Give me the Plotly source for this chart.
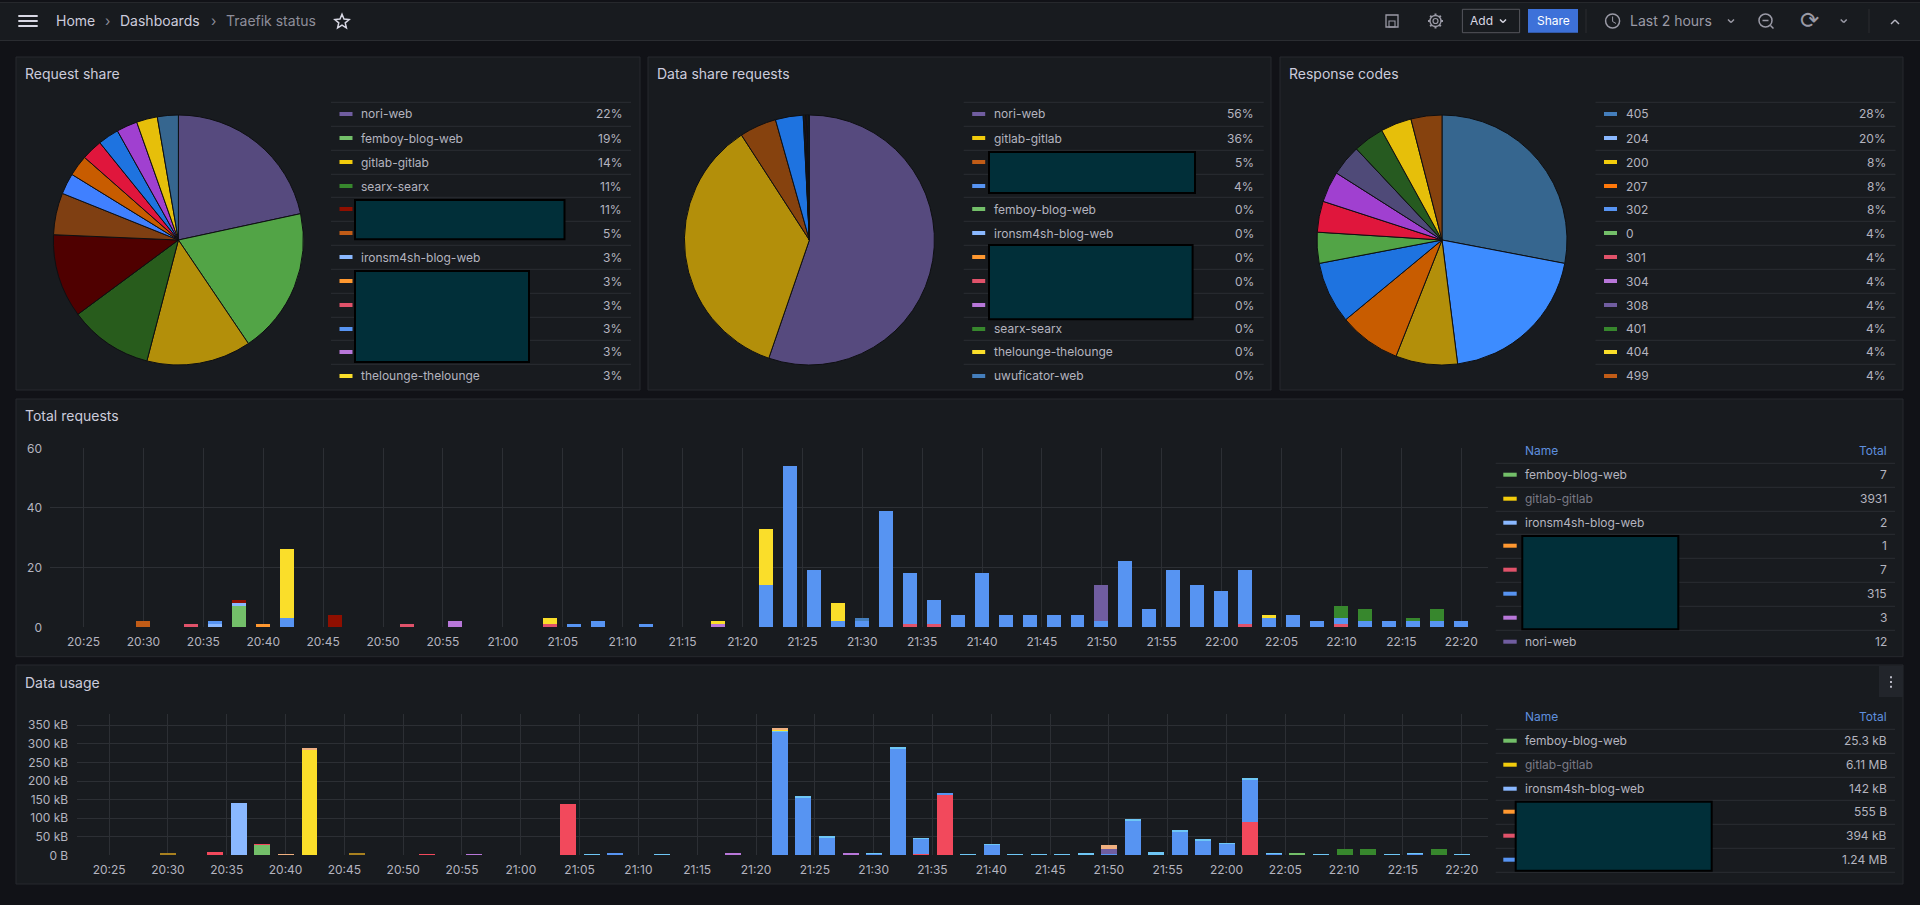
import math
import plotly.graph_objects as go

W, H = 1920, 905
DAY = "2023-06-01 "

# ---- pie panels
req_names = ["nori-web", "femboy-blog-web", "gitlab-gitlab", "searx-searx", "", "", "ironsm4sh-blog-web",
             "", "", "", "", "thelounge-thelounge"]
req_counts = [8, 7, 5, 4, 4, 2, 1, 1, 1, 1, 1, 1, 1]
req_pcts = ["22%", "19%", "14%", "11%", "11%", "5%", "3%", "3%", "3%", "3%", "3%", "3%"]
req_swatches = ["#705da0", "#73bf69", "#f2cc0c", "#37872d", "#8f0f00", "#c15c17", "#8ab8ff",
                "#ff9830", "#e0526a", "#5794f2", "#b877d9", "#fade2a"]
req_slices = ["#564a7e", "#52a446", "#b38f0a", "#285c1c", "#4f0000", "#7f3f12", "#4080ff",
              "#c85c00", "#e0163c", "#1e73e0", "#a040d0", "#e6bf0a", "#36668f"]

data_names = ["nori-web", "gitlab-gitlab", "", "", "femboy-blog-web", "ironsm4sh-blog-web", "", "", "",
              "searx-searx", "thelounge-thelounge", "uwuficator-web"]
data_shares = [55.6, 35.8, 4.8, 3.6, 0.1, 0.1, 0.1, 0.1, 0.1, 0.1, 0.1, 0.1]
data_pcts = ["56%", "36%", "5%", "4%", "0%", "0%", "0%", "0%", "0%", "0%", "0%", "0%"]
data_swatches = ["#705da0", "#f2cc0c", "#c15c17", "#5794f2", "#73bf69", "#8ab8ff", "#ff9830", "#e0526a",
                 "#b877d9", "#37872d", "#fade2a", "#447ebc"]
data_slices = ["#564a7e", "#b38f0a", "#86420e", "#1e73e0", "#52a446", "#4080ff", "#c85c00", "#e0163c",
               "#a040d0", "#285c1c", "#e6bf0a", "#36668f"]

code_names = ["405", "204", "200", "207", "302", "0", "301", "304", "308", "401", "404", "499"]
code_counts = [7, 5, 2, 2, 2, 1, 1, 1, 1, 1, 1, 1]
code_pcts = ["28%", "20%", "8%", "8%", "8%", "4%", "4%", "4%", "4%", "4%", "4%", "4%"]
code_swatches = ["#447ebc", "#8ab8ff", "#f2cc0c", "#ff780a", "#5794f2", "#73bf69", "#e0526a", "#b877d9",
                 "#705da0", "#37872d", "#fade2a", "#c15c17"]
code_slices = ["#36668f", "#3d8cff", "#b38f0a", "#c85c00", "#1e73e0", "#52a446", "#e0163c", "#a040d0",
               "#4f4a78", "#265a20", "#e6bf0a", "#86420e"]

# ---- total requests, bottom of the stack first
tr_femboy_t = ["20:38"]
tr_femboy = [7]
tr_ironsm_t = ["20:36", "20:38"]
tr_ironsm = [1, 1]
tr_red_t = ["20:34", "20:52", "21:04", "21:34", "21:36", "22:02", "22:10"]
tr_red = [1, 1, 1, 1, 1, 1, 1]
tr_blue_t = ["20:36", "20:42", "21:06", "21:08", "21:12", "21:22", "21:24", "21:26", "21:28", "21:30", "21:32",
             "21:34", "21:36", "21:38", "21:40", "21:42", "21:44", "21:46", "21:48", "21:50", "21:52", "21:54",
             "21:56", "21:58", "22:00", "22:02", "22:04", "22:06", "22:08", "22:10", "22:12", "22:14", "22:16",
             "22:18", "22:20"]
tr_blue = [1, 3, 1, 2, 1, 14, 54, 19, 2, 2, 39, 17, 8, 4, 18, 4, 4, 4, 4, 2, 22, 6, 19, 14, 12, 18, 3, 4, 2, 2, 2,
           2, 2, 2, 2]
tr_purple_t = ["20:56", "21:18"]
tr_purple = [2, 1]
tr_uwu_t = ["21:30"]
tr_uwu = [1]
tr_nori_t = ["21:50"]
tr_nori = [12]
tr_searx_t = ["22:10", "22:12", "22:16", "22:18"]
tr_searx = [4, 4, 1, 4]
tr_gitlab_t = ["20:42", "21:04", "21:18", "21:22", "21:28", "22:04"]
tr_gitlab = [23, 2, 1, 19, 6, 1]
tr_darkred_t = ["20:38", "20:46"]
tr_darkred = [1, 4]
tr_brown_t = ["20:30"]
tr_brown = [2]
tr_orange_t = ["20:40"]
tr_orange = [1]

# ---- data usage in kB
du_femboy_t = ["20:38", "21:08", "22:06"]
du_femboy = [27, 2, 4]
du_ironsm_t = ["20:36"]
du_ironsm = [141]
du_red_t = ["20:34", "20:38", "20:52", "21:04", "21:34", "21:36", "22:02"]
du_red = [9, 2, 2, 138, 4, 163, 89]
du_blue_t = ["21:08", "21:22", "21:24", "21:26", "21:30", "21:32", "21:34", "21:36", "21:40", "21:48", "21:50",
             "21:52", "21:54", "21:56", "21:58", "22:00", "22:02", "22:04", "22:16"]
du_blue = [2, 333, 155, 48, 3, 287, 40, 4, 27, 2, 2, 93, 1, 61, 40, 31, 114, 3, 3]
du_cyan_t = ["21:06", "21:12", "21:22", "21:24", "21:26", "21:30", "21:32", "21:34", "21:38", "21:40", "21:42",
             "21:44", "21:46", "21:48", "21:52", "21:54", "21:56", "21:58", "22:00", "22:02", "22:04", "22:08",
             "22:14", "22:16", "22:20"]
du_cyan = [2, 2, 1, 2, 1, 1, 2, 1, 1.5, 1, 1.5, 1.5, 1.5, 1.5, 5, 8, 7, 4, 1, 2, 1, 1.5, 1.5, 1, 1.5]
du_purple_t = ["20:56", "21:18", "21:28"]
du_purple = [2, 5, 4]
du_nori_t = ["21:50"]
du_nori = [13]
du_searx_t = ["22:10", "22:12", "22:18"]
du_searx = [17, 17, 17]
du_gitlab_t = ["20:42", "21:22"]
du_gitlab = [283, 3]
du_brown_t = ["20:30", "20:46"]
du_brown = [3, 3]
du_orange_t = ["20:40", "20:42", "21:22", "21:50"]
du_orange = [2, 6, 3, 13]

# ---- tables
req_table_names = ["femboy-blog-web", "gitlab-gitlab", "ironsm4sh-blog-web", "", "", "", "", "nori-web"]
req_table_totals = ["7", "3931", "2", "1", "7", "315", "3", "12"]
req_table_colors = ["#73bf69", "#f2cc0c", "#8ab8ff", "#ff9830", "#e0526a", "#5794f2", "#b877d9", "#705da0"]
use_table_names = ["femboy-blog-web", "gitlab-gitlab", "ironsm4sh-blog-web", "", "", ""]
use_table_totals = ["25.3 kB", "6.11 MB", "142 kB", "555 B", "394 kB", "1.24 MB"]
use_table_colors = ["#73bf69", "#f2cc0c", "#8ab8ff", "#ff9830", "#e0526a", "#5794f2"]
usage_ticks = [0, 50, 100, 150, 200, 250, 300, 350]
usage_labels = ["0 B", "50 kB", "100 kB", "150 kB", "200 kB", "250 kB", "300 kB", "350 kB"]

BG = "#111217"
PANEL = "#181b1f"
BORDER = "#27292e"
TEXT = "#ccccdc"
DIM = "#b4b4bf"
ROW = "#2b2d33"
GRID = "#2c2f34"
BLUE_HEAD = "#5f8fde"
HIDE = "#012f39"
ICON = "#9a9aa6"


def px(x):
    return x / W


def py(y):
    return 1 - y / H


shapes = []
notes = []


def rect(x0, y0, x1, y1, fill, line=None, lw=1, layer="above"):
    shapes.append(dict(type="rect", xref="paper", yref="paper", x0=px(x0), x1=px(x1), y0=py(y0), y1=py(y1),
                       fillcolor=fill, line=dict(color=line or fill, width=lw if line else 0), layer=layer))


def seg(x0, y0, x1, y1, color, lw=1):
    shapes.append(dict(type="line", xref="paper", yref="paper", x0=px(x0), x1=px(x1), y0=py(y0), y1=py(y1),
                       line=dict(color=color, width=lw)))


def circle(x, y, r, color, lw=1.5):
    shapes.append(dict(type="circle", xref="paper", yref="paper", x0=px(x - r), x1=px(x + r), y0=py(y - r),
                       y1=py(y + r), line=dict(color=color, width=lw)))


def chevron(x, y, size, color, up=False):
    d = -size if up else size
    seg(x - size, y - d / 2, x, y + d / 2, color, 1.5)
    seg(x, y + d / 2, x + size, y - d / 2, color, 1.5)


def star(x, y, outer, inner, color):
    pts = []
    for i in range(10):
        r = outer if i % 2 == 0 else inner
        a = math.pi * i / 5
        pts.append((px(x + r * math.sin(a)), py(y - r * math.cos(a))))
    path = "M" + " L".join(f"{a:.5f},{b:.5f}" for a, b in pts) + " Z"
    shapes.append(dict(type="path", xref="paper", yref="paper", path=path, line=dict(color=color, width=1.5)))


def gear(x, y, color):
    circle(x, y, 2.5, color, 1.2)
    circle(x, y, 5.5, color, 1.4)
    for i in range(8):
        a = math.pi * i / 4
        seg(x + 5.5 * math.cos(a), y + 5.5 * math.sin(a), x + 7.5 * math.cos(a), y + 7.5 * math.sin(a), color, 2)


def label(x, y, text, size=12, color=TEXT, anchor="left", weight=400, family="Inter"):
    notes.append(dict(xref="paper", yref="paper", x=px(x), y=py(y), text=text, showarrow=False, xanchor=anchor,
                      yanchor="middle", borderpad=0, borderwidth=0,
                      font=dict(family=family, size=size, color=color, weight=weight)))


# panels and top bar
rect(0, 2.5, W, 40.5, PANEL, layer="below")
seg(0, 2.5, W, 2.5, "#26282c")
seg(0, 40.5, W, 40.5, "#2a2c31")
for box in [(16, 57, 640, 390), (648, 57, 1271, 390), (1280, 57, 1903, 390), (16, 399, 1903, 656.7),
            (16, 665, 1903, 884)]:
    rect(*box, PANEL, BORDER, 1, "below")

for title, x, y in [("Request share", 25, 74), ("Data share requests", 657, 74), ("Response codes", 1289, 74),
                    ("Total requests", 25, 415.5), ("Data usage", 25, 682)]:
    label(x, y, title, 14, TEXT)

# top bar contents
for y in (16, 21, 26):
    seg(18.3, y, 37.7, y, "#d8d8e4", 2)
label(56, 21, "Home", 14)
label(107, 21, "›", 14, "#8e8e9a", "center")
label(120, 21, "Dashboards", 14)
label(213, 21, "›", 14, "#8e8e9a", "center")
label(226, 21, "Traefik status", 14, "#8e8e9a")
star(342, 21.8, 7.5, 3.4, "#d8d8e4")
rect(1386, 15, 1398, 27, "rgba(0,0,0,0)", ICON, 1.3)
rect(1389, 21, 1395, 27, "rgba(0,0,0,0)", ICON, 1.1)
gear(1435.5, 21, ICON)
rect(1462.4, 9.3, 1519.6, 32.7, PANEL, "#54565c", 1)
label(1470, 20.5, "Add", 12, "#d8d8e4")
chevron(1503, 21, 3, "#d8d8e4")
rect(1528, 9, 1578, 32.7, "#3d71d9")
label(1553, 20.5, "Share", 12, "#ffffff", "center")
seg(1586, 9, 1586, 33, "#2a2c31")
circle(1612.6, 21, 7, ICON)
seg(1612.6, 16.5, 1612.6, 21.5, ICON)
seg(1612.6, 21.5, 1616, 23.5, ICON)
label(1630, 21, "Last 2 hours", 14, ICON)
chevron(1731, 21, 3, ICON)
circle(1765.5, 20.5, 6.5, ICON)
seg(1762.5, 20.5, 1768.5, 20.5, ICON, 1.5)
seg(1770.5, 25.5, 1773.5, 28.5, ICON, 1.5)
label(1809, 20, "⟳", 23, ICON, "center", family="DejaVu Sans")
chevron(1843.7, 21, 3, ICON)
seg(1869, 9, 1869, 33, "#2a2c31")
chevron(1895, 22, 4, "#b8b8c4", up=True)

# pie legends
pie_rows = [102.3, 126.3, 150.3, 174.3, 197.3, 221.3, 245.3, 269.3, 293.3, 317.3, 340.3, 364.3]


def pie_legend(x, names, pcts, colors):
    for top, name, pct, color in zip(pie_rows, names, pcts, colors):
        seg(x, top, x + 300, top, ROW)
        rect(x + 8.5, top + 9.7, x + 21.5, top + 13.7, color)
        if name:
            label(x + 30, top + 11.7, name, 12, DIM)
        label(x + 290.5, top + 11.7, pct, 12, DIM, "right")


pie_legend(331, req_names, req_pcts, req_swatches)
pie_legend(963.7, data_names, data_pcts, data_swatches)
pie_legend(1595.5, code_names, code_pcts, code_swatches)


def table(head_y, lines, names, totals, colors):
    label(1525.3, head_y, "Name", 12, BLUE_HEAD)
    label(1886.7, head_y, "Total", 12, BLUE_HEAD, "right")
    for top in lines:
        seg(1495.7, top, 1895, top, ROW)
    for top, name, total, color in zip(lines, names, totals, colors):
        rect(1503.3, top + 9.4, 1516.7, top + 13.4, color)
        if name:
            label(1525.3, top + 11.4, name, 12, "#7a7a85" if name == "gitlab-gitlab" else DIM)
        label(1886.7, top + 11.4, total, 12, DIM, "right")


table(450.7, [463.3, 487.3, 511.3, 534.3, 558.3, 582.3, 606.3, 630.3], req_table_names, req_table_totals,
      req_table_colors)
table(716.7, [729.3, 753.3, 777.3, 800.3, 824.3, 848.3, 872.3], use_table_names, use_table_totals,
      use_table_colors)

# kebab button on the last panel
rect(1879, 666, 1903, 697, "#22252b")
for y in (677.3, 682, 686.7):
    rect(1890, y - 1, 1892, y + 1, "#b8b8c4")

# blocked out names
for box in [(355, 200, 564.5, 239.3), (355, 271, 529, 362), (989, 152, 1195, 193), (989, 245, 1192.6, 319.3),
            (1522.3, 536, 1678.3, 629.3), (1515.7, 801.7, 1711.7, 870.7)]:
    rect(*box, HIDE, "#000000", 2)

fig = go.Figure()


def add_pie(values, colors, cx):
    fig.add_trace(go.Pie(values=values, marker=dict(colors=colors, line=dict(color="#0e0f12", width=1)), sort=False,
                         direction="clockwise", rotation=0, textinfo="none", hoverinfo="skip", showlegend=False,
                         automargin=False, domain=dict(x=[px(cx - 125), px(cx + 125)], y=[py(365), py(115)])))


add_pie(req_counts, req_slices, 178.4)
add_pie(data_shares, data_slices, 809.4)
add_pie(code_counts, code_slices, 1442)


def add_bars(times, values, color, axis, width):
    fig.add_trace(go.Bar(x=[DAY + t + ":00" for t in times], y=values, width=width, xaxis="x" + axis, yaxis="y" + axis,
                         marker=dict(color=color, line=dict(width=0)), showlegend=False, hoverinfo="skip"))


for t, v, c in [(tr_femboy_t, tr_femboy, "#73bf69"), (tr_ironsm_t, tr_ironsm, "#8ab8ff"),
                (tr_red_t, tr_red, "#e0526a"), (tr_blue_t, tr_blue, "#5794f2"),
                (tr_purple_t, tr_purple, "#b877d9"), (tr_uwu_t, tr_uwu, "#447ebc"),
                (tr_nori_t, tr_nori, "#705da0"), (tr_searx_t, tr_searx, "#37872d"),
                (tr_gitlab_t, tr_gitlab, "#fade2a"), (tr_darkred_t, tr_darkred, "#8f0f00"),
                (tr_brown_t, tr_brown, "#c15c17"), (tr_orange_t, tr_orange, "#ff9830")]:
    add_bars(t, v, c, "", 70000)

for t, v, c in [(du_femboy_t, du_femboy, "#73bf69"), (du_ironsm_t, du_ironsm, "#8ab8ff"),
                (du_red_t, du_red, "#f2495c"), (du_blue_t, du_blue, "#5794f2"),
                (du_cyan_t, du_cyan, "#6ec6f5"), (du_purple_t, du_purple, "#b877d9"),
                (du_nori_t, du_nori, "#705da0"), (du_searx_t, du_searx, "#37872d"),
                (du_gitlab_t, du_gitlab, "#fade2a"), (du_brown_t, du_brown, "#a8801f"),
                (du_orange_t, du_orange, "#f0b080")]:
    add_bars(t, v, c, "2", 81500)

x_range = [DAY + "20:22:14", DAY + "22:22:14"]
x_axis = dict(type="date", range=x_range, tick0=DAY + "20:25:00", dtick=300000, tickformat="%H:%M", showgrid=True,
              gridcolor=GRID, gridwidth=1, zeroline=False, showline=False, ticks="outside", ticklen=3,
              tickcolor="rgba(0,0,0,0)", tickfont=dict(family="Inter", size=12, color=DIM))
y_axis = dict(showgrid=True, gridcolor=GRID, gridwidth=1, zeroline=False, showline=False, ticks="outside", ticklen=5,
              tickcolor="rgba(0,0,0,0)", tickfont=dict(family="Inter", size=12, color=DIM))

fig.update_layout(
    width=W, height=H, autosize=False, margin=dict(l=0, r=0, t=0, b=0, pad=0, autoexpand=False), barmode="stack",
    bargap=0, paper_bgcolor=BG, plot_bgcolor="rgba(0,0,0,0)", showlegend=False, hovermode=False,
    shapes=shapes, annotations=notes,
    xaxis=dict(x_axis, domain=[px(50.4), px(1488)], anchor="y"),
    yaxis=dict(y_axis, domain=[py(627.3), py(448.3)], anchor="x", range=[0, 60], dtick=20),
    xaxis2=dict(x_axis, domain=[px(76.6), px(1488)], anchor="y2"),
    yaxis2=dict(y_axis, domain=[py(855.3), py(714.3)], anchor="x2", range=[0, 379.6], tickvals=usage_ticks,
                ticktext=usage_labels),
)

fig.write_html("out.html", config=dict(displayModeBar=False),
               post_script="document.body.style.margin='0';document.body.style.overflow='hidden';")
